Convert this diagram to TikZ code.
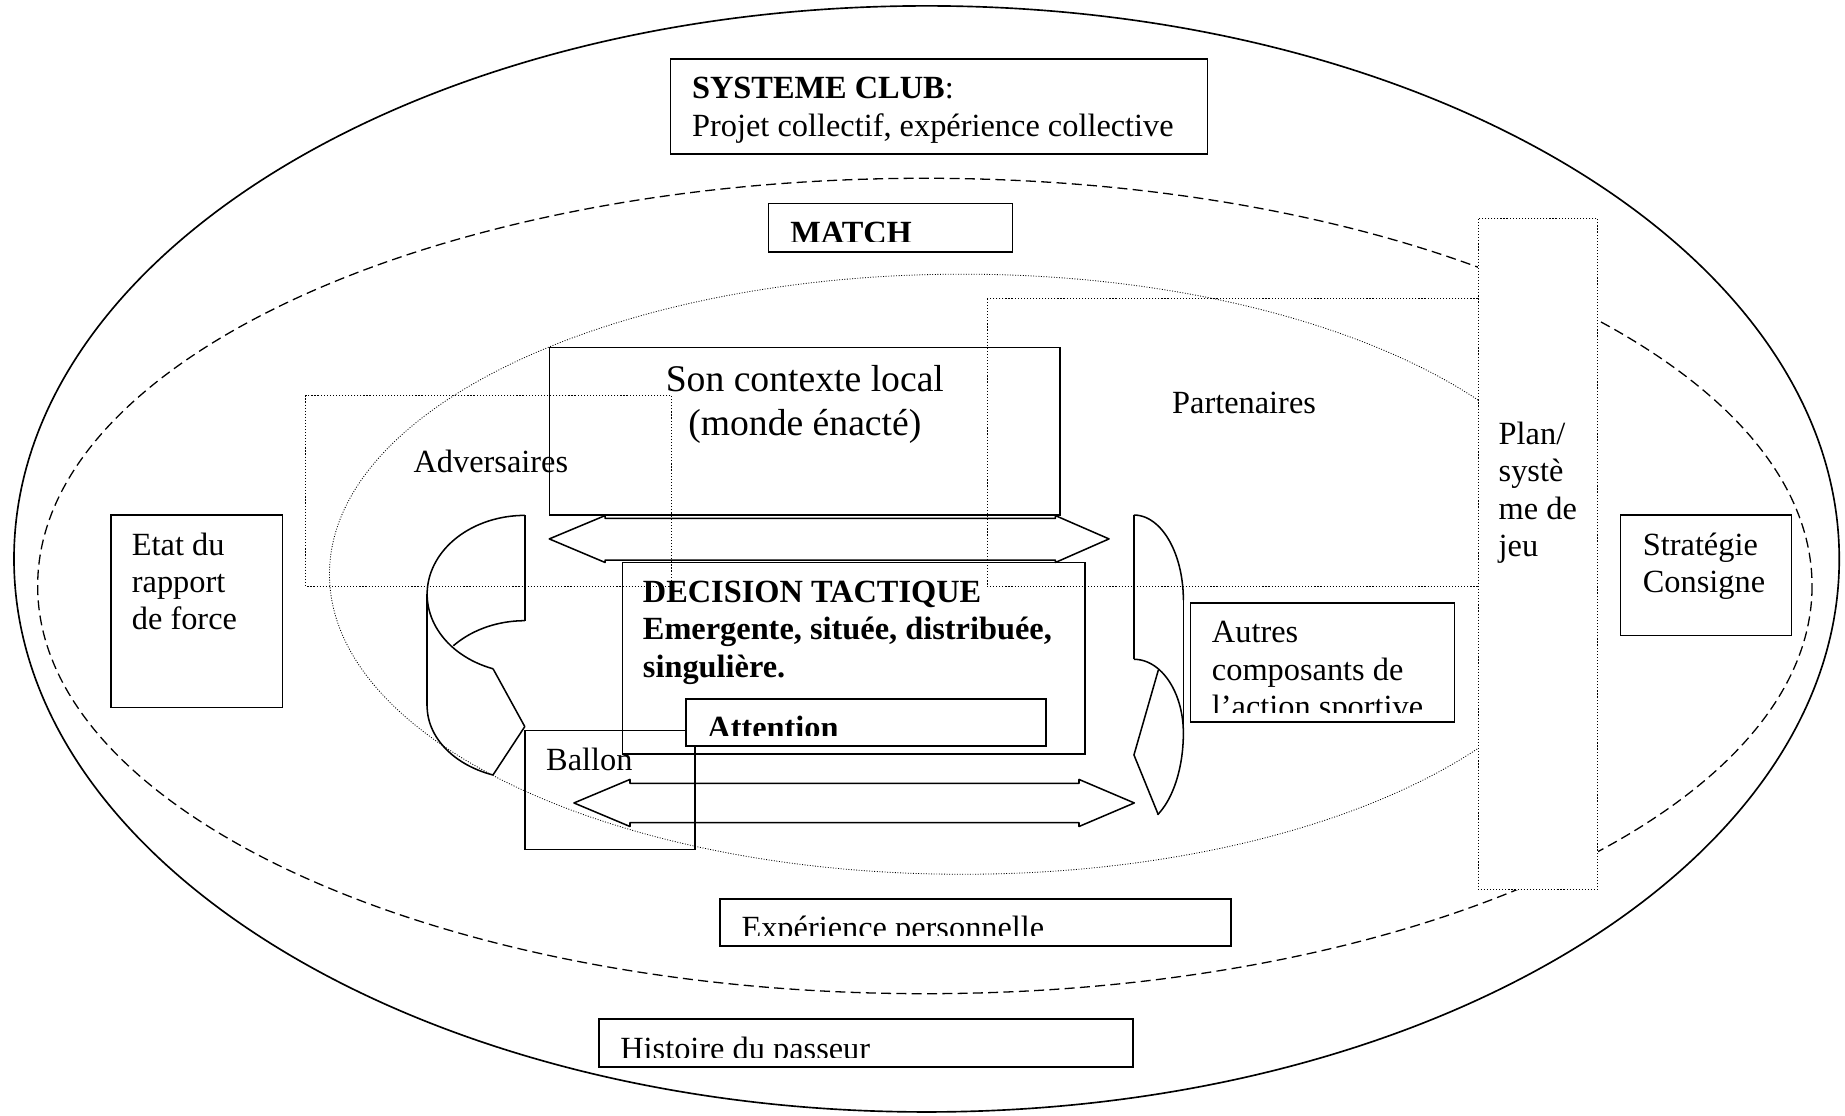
\documentclass[tikz,border=0pt]{standalone}
\usepackage{fontspec}
\setmainfont{Liberation Serif}
\newcommand{\txtnormal}{\fontsize{27.5}{31.6}\selectfont}
\newcommand{\txtgrand}{\fontsize{32}{36.8}\selectfont}

\begin{document}
\begin{tikzpicture}[x=1pt,y=-1pt,
  cadre/.style={draw=black,line width=1.3pt},
  pointille/.style={draw=black,line width=0.9pt,dash pattern=on 1pt off 1.6pt},
  texte/.style={anchor=base west,inner sep=0pt,align=left,font=\txtnormal},
  forme/.style={line width=1.3pt,line join=round}]
\useasboundingbox (0,0) rectangle (1568,948);

% les trois ellipses
\draw [line width=1.4pt] (787.5,475) ellipse [x radius=775.6, y radius=470];
\draw [line width=1.1pt,dash pattern=on 8.5pt off 4.5pt] (786,498) ellipse [x radius=754, y radius=346.5];
\draw [line width=0.7pt,dash pattern=on 0.8pt off 1.4pt] (818,488) ellipse [x radius=538, y radius=255];

% cadres exterieurs
\draw [cadre,fill=white] (570,50) rectangle (1026,131);
\draw [cadre,fill=white] (653,173) rectangle (860.6,214);
\draw [cadre,fill=white] (94.3,437.7) rectangle (240,601.4);
\draw [cadre,fill=white] (1377.3,437.7) rectangle (1522.6,540.2);
\draw [cadre,fill=white] (612,764) rectangle (1046,804);
\draw [cadre,fill=white] (509,866) rectangle (963,907);

% zones adversaires / partenaires
\draw [pointille] (260,336) rectangle (570.8,498.6);
\draw [pointille] (839,254) rectangle (1256.5,498.6);
\draw [pointille,fill=white] (1256.5,186) rectangle (1358,756);

\draw [cadre] (466.8,295.2) rectangle (901,437.7);

% doubles fleches
\draw [forme] (466.8,458) -- (514.2,438.2) -- (514.2,440.5) -- (897,440.5) -- (897,438.2)
  -- (942.5,458) -- (897,478) -- (897,476) -- (514.2,476) -- (514.2,478) -- cycle;
\draw [forme] (487.8,682.4) -- (535.4,662.4) -- (535.4,665.7) -- (917,665.7) -- (917,662.4)
  -- (964,682.4) -- (917,702.4) -- (917,699.1) -- (535.4,699.1) -- (535.4,702.4) -- cycle;

% fleche courbe gauche
\draw [forme] (446,438) -- (446,527.5);
\draw [forme,domain=90:251,samples=60] plot ({446+83*cos(\x)},{505-67*sin(\x)});
\draw [forme,domain=90:137,samples=30] plot ({446+83*cos(\x)},{594.5-67*sin(\x)});
\draw [forme] (363,505) -- (363,600);
\draw [forme,domain=180:251,samples=30] plot ({446+83*cos(\x)},{600-62*sin(\x)});
\draw [forme] (419,568.3) -- (446,617.5) -- (419,658.6);

% fleche courbe droite
\draw [forme] (963.7,437.7) -- (963.7,560.3);
\draw [forme,domain=90:0,samples=40] plot ({963.7+42*cos(\x)},{510-72.3*sin(\x)});
\draw [forme] (1005.7,510) -- (1005.7,623);
\draw [forme,domain=0:-61.5,samples=30] plot ({963.7+42*cos(\x)},{623-79*sin(\x)});
\draw [forme,domain=90:0,samples=40] plot ({963.7+42*cos(\x)},{623-62.7*sin(\x)});
\draw [forme] (984.4,569.5) -- (963.7,641.6) -- (984.4,692.4);

\draw [cadre] (529.2,478.2) rectangle (922,641);
\draw [cadre] (446,621) rectangle (590.6,722);
\draw [cadre,fill=white] (583,594) rectangle (889,634);
\draw [cadre,fill=white] (1011.8,512.4) rectangle (1236,613.8);

% textes (ancre sur la ligne de base de la derniere ligne)
\node [texte] (club) at (588,115.6) {\textbf{SYSTEME CLUB}:\\Projet collectif, expérience collective};
\begin{scope}
\clip (653,173) rectangle (860.6,205.4);
\node [texte] (match) at (671.4,207) {\textbf{MATCH}};
\end{scope}
\node [texte,anchor=base,align=center,font=\txtgrand] (contexte) at (684,369.7) {Son contexte local\\(monde énacté)};
\node [texte] (adversaires) at (351.3,401.7) {Adversaires};
\node [texte] (partenaires) at (996,351.2) {Partenaires};
\node [texte] (plan) at (1273.5,472.8) {Plan/\\systè\\me de\\jeu};
\node [texte] (etat) at (111.9,534.9) {Etat du\\rapport\\de force};
\node [texte] (strategie) at (1396,503.3) {Stratégie\\Consigne};
\node [texte,font=\txtnormal\bfseries] (decision) at (546.2,575.4) {DECISION TACTIQUE\\Emergente, située, distribuée,\\singulière.};
\begin{scope}
\clip (583,594) rectangle (889,625.4);
\node [texte] (attention) at (601,628) {\textbf{Attention}};
\end{scope}
\node [texte] (ballon) at (464,655) {Ballon};
\begin{scope}
\clip (1011.8,512.4) rectangle (1236,605.2);
\node [texte] (autres) at (1029.8,609.6) {Autres\\composants de\\l’action sportive};
\end{scope}
\begin{scope}
\clip (612,764) rectangle (1046,795.4);
\node [texte] (experience) at (630,798) {Expérience personnelle};
\end{scope}
\begin{scope}
\clip (509,866) rectangle (963,898.4);
\node [texte] (histoire) at (527,900) {Histoire du passeur};
\end{scope}

\end{tikzpicture}
\end{document}
